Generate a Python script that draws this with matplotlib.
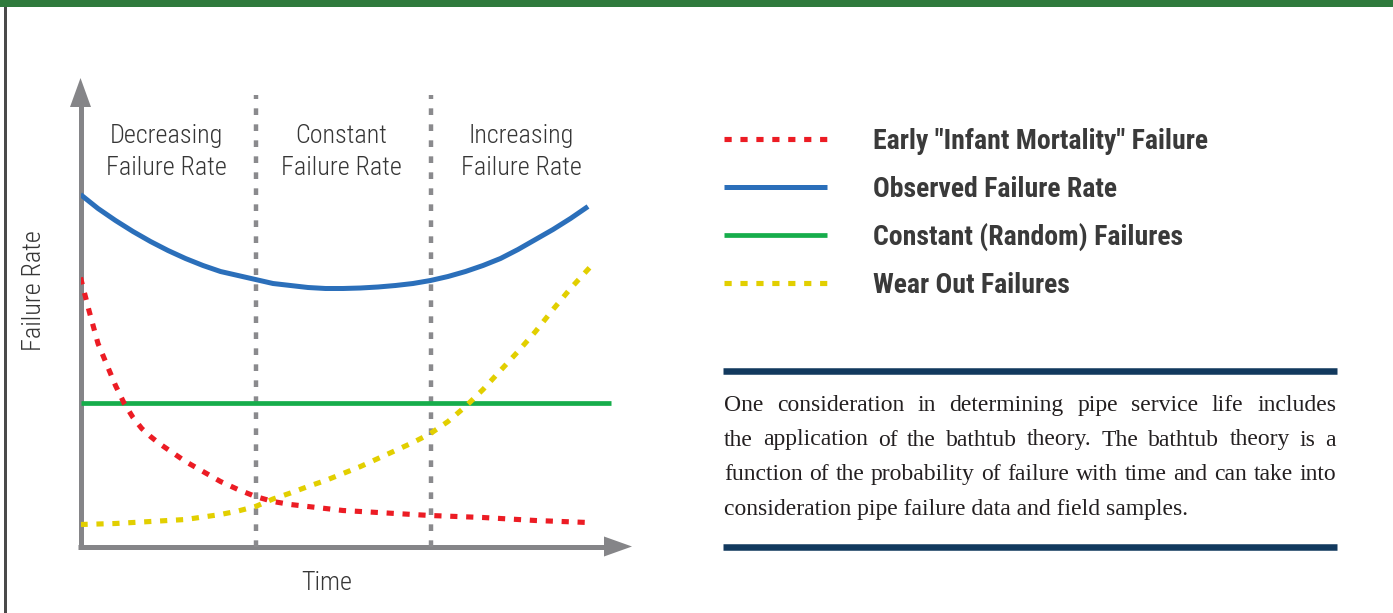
import os
import matplotlib
matplotlib.use("Agg")
import matplotlib.pyplot as plt
from matplotlib import font_manager
from matplotlib.font_manager import FontProperties
from matplotlib.patches import Rectangle

# time is in "phase" units: 0-1 early life, 1-2 useful life, 2-3 wear out
phase_bounds = [1.0, 2.0]
phase_labels = ["Decreasing\nFailure Rate", "Constant\nFailure Rate", "Increasing\nFailure Rate"]
phase_label_t = [0.49, 1.49, 2.52]

t_observed = [0.0, 0.1, 0.2, 0.3, 0.4, 0.5, 0.6, 0.7, 0.8, 0.9, 1.0, 1.1, 1.2, 1.3, 1.4,
              1.5, 1.6, 1.7, 1.8, 1.9, 2.0, 2.1, 2.2, 2.3, 2.4, 2.5, 2.6, 2.7, 2.8, 2.9]
rate_observed = [3.52, 3.38, 3.26, 3.15, 3.05, 2.96, 2.88, 2.81, 2.75, 2.71, 2.67, 2.63, 2.61,
                 2.59, 2.58, 2.58, 2.585, 2.595, 2.61, 2.63, 2.66, 2.70, 2.75, 2.81, 2.88,
                 2.97, 3.07, 3.17, 3.28, 3.40]

t_early = [0.0, 0.05, 0.1, 0.15, 0.2, 0.25, 0.3, 0.35, 0.4, 0.45, 0.5, 0.55, 0.6, 0.65, 0.7,
           0.8, 0.9, 1.0, 1.1, 1.2, 1.35, 1.5, 1.7, 2.0, 2.3, 2.6, 2.9]
rate_early = [2.69, 2.35, 2.03, 1.82, 1.61, 1.43, 1.29, 1.18, 1.10, 1.03, 0.97, 0.91, 0.85,
              0.80, 0.75, 0.65, 0.57, 0.50, 0.45, 0.42, 0.39, 0.36, 0.34, 0.31, 0.29, 0.26, 0.24]

t_wear = [0.0, 0.2, 0.4, 0.6, 0.8, 0.9, 1.0, 1.1, 1.2, 1.3, 1.4, 1.5, 1.6, 1.7, 1.8, 1.9,
          2.0, 2.1, 2.2, 2.3, 2.4, 2.5, 2.6, 2.7, 2.8, 2.91]
rate_wear = [0.22, 0.23, 0.25, 0.27, 0.32, 0.355, 0.40, 0.475, 0.535, 0.60, 0.66, 0.73, 0.80,
             0.88, 0.96, 1.04, 1.13, 1.25, 1.40, 1.57, 1.76, 1.95, 2.15, 2.37, 2.58, 2.79]

t_constant = [0.0, 3.03]
rate_constant = [1.44, 1.44]

legend_labels = ['Early "Infant Mortality" Failure', "Observed Failure Rate",
                 "Constant (Random) Failures", "Wear Out Failures"]

para_lines = [
    "One consideration in determining pipe service life includes",
    "the application of the bathtub theory. The bathtub theory is a",
    "function of the probability of failure with time and can take into",
    "consideration pipe failure data and field samples.",
]

RED = "#ec1c24"
BLUE = "#2b6fba"
GREEN = "#16ad4b"
YELLOW = "#e2cf00"
GRAY = "#858588"
NAVY = "#12395e"
TXT = "#363636"


def find_font(keys):
    files = [f.fname for f in font_manager.fontManager.ttflist]
    for k in keys:
        for fn in files:
            if k in os.path.basename(fn).lower():
                return fn
    return None


light_file = find_font(["robotocondensed-light", "liberationsansnarrow-regular",
                        "robotocondensed-regular", "dejavusanscondensed.ttf"])
bold_file = find_font(["robotocondensed-bold.", "liberationsansnarrow-bold.",
                       "dejavusanscondensed-bold."])


def fp_light(size):
    if light_file:
        return FontProperties(fname=light_file, size=size)
    return FontProperties(family="Roboto", weight="light", size=size)


def fp_bold(size):
    if bold_file:
        return FontProperties(fname=bold_file, size=size)
    return FontProperties(family="Roboto", weight="bold", size=size)


names = {f.name for f in font_manager.fontManager.ttflist}
SERIF = "Liberation Serif" if "Liberation Serif" in names else "DejaVu Serif"

W, H = 1393, 613
fig = plt.figure(figsize=(W / 100, H / 100), dpi=100)
renderer = fig.canvas.get_renderer()


def text_width(s, fp):
    t = fig.text(0, 0, s, fontproperties=fp)
    w = t.get_window_extent(renderer).width
    t.remove()
    return w


# font sizes fitted to the widths of the reference lettering
LBL = min(20, 10 * 113 / text_width("Decreasing", fp_light(10)))
LEG = min(20, 10 * 340 / text_width(legend_labels[0], fp_bold(10)))

# background layer in pixel coordinates
bg = fig.add_axes([0, 0, 1, 1])
bg.set_xlim(0, W)
bg.set_ylim(H, 0)
bg.axis("off")
bg.add_patch(Rectangle((0, 0), W, 6.5, color="#2f7a3c", lw=0))
bg.add_patch(Rectangle((3.5, 6.5), 3, H, color="#4a4a4a", lw=0))

# axis arrows
bg.plot([80.5, 80.5], [549, 105], color=GRAY, lw=3.6, solid_capstyle="butt")
bg.plot([78, 606], [546.5, 546.5], color=GRAY, lw=3.6, solid_capstyle="butt")
bg.fill([70, 91, 80.5], [107, 107, 78], color=GRAY, lw=0)
bg.fill([604, 604, 632], [536.5, 556.5, 546.5], color=GRAY, lw=0)

bg.text(34, 291, "Failure Rate", rotation=90, ha="center", va="center",
        fontproperties=fp_light(LBL), color=TXT)
bg.text(327, 590, "Time", ha="center", va="baseline", fontproperties=fp_light(LBL), color=TXT)

# data axes
ax = fig.add_axes([80.5 / W, (H - 546.5) / H, 551.5 / W, 468.5 / H])
ax.set_xlim(0, 551.5 / 175)
ax.set_ylim(0, 4.685)
ax.axis("off")

for b in phase_bounds:
    ax.plot([b, b], [0, 4.515], color="#8a8a8d", lw=3.2, ls=(0, (1.5, 2.1)),
            dash_capstyle="butt", zorder=1)

for tc, lab in zip(phase_label_t, phase_labels):
    l1, l2 = lab.split("\n")
    ax.text(tc, 4.035, l1, ha="center", va="baseline", fontproperties=fp_light(LBL), color=TXT)
    ax.text(tc, 3.715, l2, ha="center", va="baseline", fontproperties=fp_light(LBL), color=TXT)

ln_green, = ax.plot(t_constant, rate_constant, color=GREEN, lw=3.4, solid_capstyle="butt", zorder=2)
ln_blue, = ax.plot(t_observed, rate_observed, color=BLUE, lw=3.6, solid_capstyle="butt",
                   solid_joinstyle="round", zorder=2)
ln_yellow, = ax.plot(t_wear, rate_wear, color=YELLOW, lw=3.7, ls=(0, (1.4, 1.7)),
                     dash_capstyle="butt", zorder=3)
ln_red, = ax.plot(t_early, rate_early, color=RED, lw=3.7, ls=(0, (1.4, 1.7)),
                  dash_capstyle="butt", zorder=4)

fs_px = LEG * 100 / 72
fig.legend([ln_red, ln_blue, ln_green, ln_yellow], legend_labels,
           loc="upper left", bbox_to_anchor=(724 / W, 1 - (140 - 0.43 * fs_px) / H),
           frameon=False, borderpad=0, borderaxespad=0,
           prop=fp_bold(LEG), labelcolor="#3a3a3a",
           handlelength=103 / fs_px, handletextpad=46 / fs_px,
           labelspacing=48.6 / fs_px - 1.01)

# text block with rules
bg.plot([723, 1337], [370.5, 370.5], color=NAVY, lw=4.7, solid_capstyle="butt")
bg.plot([723, 1337], [547, 547], color=NAVY, lw=4.7, solid_capstyle="butt")

kw = dict(family=SERIF, fontsize=17, color="#231f20", va="baseline", ha="left")
x0, x1 = 724, 1336
for i, line in enumerate(para_lines):
    y = 411 + i * 34.5
    words = line.split()
    if i < len(para_lines) - 1:
        widths = []
        for w in words:
            t = bg.text(0, 0, w, **kw)
            widths.append(t.get_window_extent(renderer).width)
            t.remove()
        gap = (x1 - x0 - sum(widths)) / (len(words) - 1)
        x = x0
        for w, wd in zip(words, widths):
            bg.text(x, y, w, **kw)
            x += wd + gap
    else:
        bg.text(x0, y, line, **kw)

fig.savefig("out.png", dpi=100)
